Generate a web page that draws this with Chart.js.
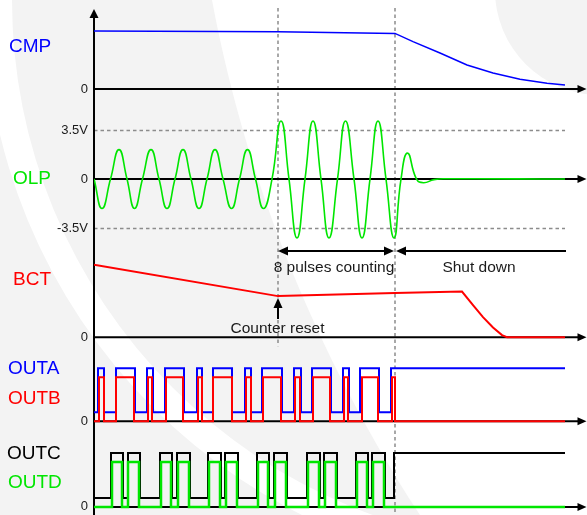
<!DOCTYPE html>
<html><head><meta charset="utf-8">
<script src="https://cdn.jsdelivr.net/npm/chart.js@4.4.1/dist/chart.umd.min.js"></script>
<style>html,body{margin:0;padding:0;background:#fff;}canvas{display:block;}</style>
</head><body>
<canvas id="c" width="587" height="515"></canvas>
<script>
// ---- time axis (arbitrary time units, 0 = origin) ----
const T_END = 471;
const COUNTER_RESET_T = 184;
const SHUTDOWN_T = 301;

// ---- CMP ----
const cmpT = [0, 184, 301, 319, 346, 373, 399, 426, 453, 471];
const cmpV = [2.9, 2.86, 2.78, 2.37, 1.8, 1.2, 0.8, 0.49, 0.29, 0.2];

// ---- OLP (volts) ----
const olpT = [0, 8, 16.5, 25, 33, 40.5, 48.5, 57, 65, 73, 81, 89, 97, 105, 113, 121, 129, 137.5, 145.5, 153.5, 161.5, 169.5,
              178, 187, 195, 203, 211, 219, 227, 235, 243.5, 251.5, 260, 268, 276, 284, 292, 300,
              307, 313.5, 322.5, 329.5, 340, 352, 471];
const olpV = [0, -2.1, 0, 2.1, 0, -2.1, 0, 2.1, 0, -2.1, 0, 2.1, 0, -2.1, 0, 2.1, 0, -2.1, 0, 2.1, 0, -2.1,
              0, 4.15, 0, -4.2, 0, 4.15, 0, -4.2, 0, 4.15, 0, -4.2, 0, 4.15, 0, -4.2,
              0, 1.85, 0, -0.26, -0.04, 0.02, 0];
const OLP_LIMITS = [3.5, -3.5];

// ---- BCT ----
const bctT = [0, 184, 301, 368, 379, 389, 399, 408, 413, 471];
const bctV = [3.62, 2.05, 2.2, 2.28, 1.6, 1.0, 0.48, 0.1, 0, 0];

// ---- digital outputs: toggle times (start low) ----
const outaEdges = [4, 10, 22, 41, 53, 59, 71, 90, 103, 108, 119, 138, 151, 157, 168, 188, 200, 207, 218, 237, 249, 255, 266, 285, 297];
const outbEdges = [5, 10, 22, 40, 54, 58, 72, 89, 104, 108, 119, 138, 152, 157, 169, 187, 201, 206, 219, 236, 250, 254, 268, 284, 298, 301];
const outcEdges = [17, 29, 34, 46, 66, 78, 83, 96, 114, 127, 131, 144, 163, 175, 180, 193, 213, 226, 230, 243, 262, 274, 278, 291, 300];
const outdEdges = [18, 28, 34, 45, 67, 77, 84, 95, 115, 126, 132, 143, 164, 174, 181, 192, 214, 225, 231, 242, 263, 273, 279, 290];
// [low, high] trace levels
const outaLevels = [0.2, 1.2];
const outbLevels = [0, 1];
const outcLevels = [0.2, 1.2];
const outdLevels = [0, 1];

const BLUE = '#0000ff', RED = '#ff0000', GREEN = '#00e600', BLACK = '#000000';
const FONT = '"Liberation Sans", Arial, Helvetica, sans-serif';

function xy(ts, vs) { return ts.map((t, i) => ({x: t, y: vs[i]})); }
function pulseTrain(edges, levels) {
  let s = 0;
  const pts = [{x: 0, y: levels[0]}];
  for (const e of edges) { s = 1 - s; pts.push({x: e, y: levels[s]}); }
  pts.push({x: T_END, y: levels[s]});
  return pts;
}

function arrowHead(ctx, tx, ty, dx, dy, len, half) {
  const bx = tx - dx * len, by = ty - dy * len, nx = -dy, ny = dx;
  ctx.beginPath();
  ctx.moveTo(tx, ty);
  ctx.lineTo(bx + nx * half, by + ny * half);
  ctx.lineTo(bx - nx * half, by - ny * half);
  ctx.closePath();
  ctx.fill();
}

const bgPlugin = {
  id: 'bg',
  beforeDraw(chart) {
    const {ctx, width, height} = chart;
    ctx.save();
    ctx.fillStyle = '#ffffff';
    ctx.fillRect(0, 0, width, height);
    ctx.fillStyle = '#f3f3f3';
    ctx.beginPath();
    ctx.moveTo(0, 0); ctx.lineTo(212, 0);
    ctx.bezierCurveTo(240, 150, 300, 330, 420, 515);
    ctx.lineTo(0, 515); ctx.closePath(); ctx.fill();
    ctx.beginPath(); ctx.arc(600, -10, 105, 0, Math.PI * 2); ctx.fill();
    ctx.fillStyle = '#ffffff';
    ctx.beginPath();
    ctx.arc(560, 0, 576, 0, Math.PI * 2);
    ctx.arc(560, 0, 548, 0, Math.PI * 2, true);
    ctx.fill('evenodd');
    ctx.restore();
  }
};

const panels = [
  {id: 'yCMP'}, {id: 'yOLP'}, {id: 'yBCT'}, {id: 'yAB'}, {id: 'yCD'}
];
const labels = [
  {text: 'CMP', color: BLUE, x: 9, axis: 'yCMP', v: 2.13},
  {text: 'OLP', color: GREEN, x: 13, axis: 'yOLP', v: 0},
  {text: 'BCT', color: RED, x: 13, axis: 'yBCT', v: 2.87},
  {text: 'OUTA', color: BLUE, x: 8, axis: 'yAB', v: 1.2},
  {text: 'OUTB', color: RED, x: 8, axis: 'yAB', v: 0.52},
  {text: 'OUTC', color: BLACK, x: 7, axis: 'yCD', v: 1.19},
  {text: 'OUTD', color: GREEN, x: 8, axis: 'yCD', v: 0.54}
];

const axesPlugin = {
  id: 'axes',
  beforeDatasetsDraw(chart) {
    const {ctx, chartArea: ca, scales} = chart;
    const X = scales.x;
    const px = t => X.getPixelForValue(t);
    ctx.save();
    // dashed limits on OLP
    ctx.strokeStyle = '#8c8c8c'; ctx.lineWidth = 1.5; ctx.setLineDash([3.5, 3]);
    for (const v of OLP_LIMITS) {
      const y = Math.round(scales.yOLP.getPixelForValue(v)) + 0.5;
      ctx.beginPath(); ctx.moveTo(ca.left, y); ctx.lineTo(px(T_END), y); ctx.stroke();
    }
    // vertical dashed markers
    const xr = px(COUNTER_RESET_T), xs = px(SHUTDOWN_T);
    ctx.beginPath(); ctx.moveTo(xr, ca.top - 2); ctx.lineTo(xr, scales.yBCT.bottom + 2); ctx.stroke();
    ctx.beginPath(); ctx.moveTo(xs, ca.top - 2); ctx.lineTo(xs, chart.height); ctx.stroke();
    ctx.setLineDash([]);
    // zero axes
    ctx.strokeStyle = '#000'; ctx.fillStyle = '#000'; ctx.lineWidth = 2;
    for (const p of panels) {
      const y = scales[p.id].getPixelForValue(0);
      ctx.beginPath(); ctx.moveTo(ca.left, y); ctx.lineTo(ca.right - 4, y); ctx.stroke();
      arrowHead(ctx, ca.right + 1.5, y, 1, 0, 9, 4);
    }
    // vertical axis
    ctx.beginPath(); ctx.moveTo(ca.left, chart.height); ctx.lineTo(ca.left, ca.top + 4); ctx.stroke();
    arrowHead(ctx, ca.left, ca.top - 1, 0, -1, 9, 4.5);
    // tick labels
    ctx.font = '13px ' + FONT; ctx.fillStyle = '#1a1a1a';
    ctx.textAlign = 'right'; ctx.textBaseline = 'middle';
    for (const p of panels) ctx.fillText('0', ca.left - 6, scales[p.id].getPixelForValue(0));
    ctx.fillText('3.5V', ca.left - 6, scales.yOLP.getPixelForValue(3.5));
    ctx.fillText('-3.5V', ca.left - 6, scales.yOLP.getPixelForValue(-3.5));
    // signal names
    ctx.font = '19px ' + FONT; ctx.textAlign = 'left';
    for (const l of labels) {
      ctx.fillStyle = l.color;
      ctx.fillText(l.text, l.x, scales[l.axis].getPixelForValue(l.v));
    }
    ctx.restore();
  },
  afterDatasetsDraw(chart) {
    const {ctx, scales} = chart;
    const X = scales.x, B = scales.yBCT;
    const px = t => X.getPixelForValue(t);
    const xr = px(COUNTER_RESET_T), xs = px(SHUTDOWN_T), xe = px(T_END + 1);
    ctx.save();
    ctx.strokeStyle = '#000'; ctx.fillStyle = '#000'; ctx.lineWidth = 2;
    const ya = B.getPixelForValue(4.3);
    // 8 pulses counting double arrow
    ctx.beginPath(); ctx.moveTo(xr + 8, ya); ctx.lineTo(xs - 9, ya); ctx.stroke();
    arrowHead(ctx, xr, ya, -1, 0, 10, 4.5);
    arrowHead(ctx, xs - 1, ya, 1, 0, 10, 4.5);
    // shut down arrow
    ctx.beginPath(); ctx.moveTo(xs + 9, ya); ctx.lineTo(xe, ya); ctx.stroke();
    arrowHead(ctx, xs + 1, ya, -1, 0, 10, 4.5);
    // counter reset arrow
    const yTip = B.getPixelForValue(1.95), yBase = B.getPixelForValue(0.9);
    ctx.beginPath(); ctx.moveTo(xr, yBase); ctx.lineTo(xr, yTip + 8); ctx.stroke();
    arrowHead(ctx, xr, yTip, 0, -1, 10, 4.5);
    // texts
    ctx.fillStyle = '#1a1a1a';
    ctx.font = '15.5px ' + FONT; ctx.textAlign = 'center'; ctx.textBaseline = 'alphabetic';
    ctx.fillText('8 pulses counting', px(240), B.getPixelForValue(3.25));
    ctx.fillText('Shut down', px(385), B.getPixelForValue(3.25));
    ctx.fillText('Counter reset', px(183.5), B.getPixelForValue(0.225));
    ctx.restore();
  }
};

const stepped = {stepped: true, pointRadius: 0, borderWidth: 2, fill: false, borderJoinStyle: 'miter'};

new Chart(document.getElementById('c'), {
  type: 'line',
  data: {
    datasets: [
      {label: 'CMP', data: xy(cmpT, cmpV), yAxisID: 'yCMP', borderColor: BLUE, borderWidth: 1.5, pointRadius: 0, tension: 0},
      {label: 'OLP', data: xy(olpT, olpV), yAxisID: 'yOLP', borderColor: GREEN, borderWidth: 1.6, pointRadius: 0, tension: 0.5},
      {label: 'BCT', data: xy(bctT, bctV), yAxisID: 'yBCT', borderColor: RED, borderWidth: 2, pointRadius: 0, tension: 0},
      Object.assign({label: 'OUTB', data: pulseTrain(outbEdges, outbLevels), yAxisID: 'yAB', borderColor: RED}, stepped),
      Object.assign({label: 'OUTA', data: pulseTrain(outaEdges, outaLevels), yAxisID: 'yAB', borderColor: BLUE}, stepped),
      Object.assign({label: 'OUTD', data: pulseTrain(outdEdges, outdLevels), yAxisID: 'yCD', borderColor: GREEN, borderWidth: 2.5}, stepped, {borderWidth: 2.5}),
      Object.assign({label: 'OUTC', data: pulseTrain(outcEdges, outcLevels), yAxisID: 'yCD', borderColor: BLACK}, stepped)
    ]
  },
  options: {
    responsive: false,
    animation: false,
    events: [],
    layout: {padding: {left: 94, right: 2, top: 10, bottom: 0}},
    plugins: {legend: {display: false}, tooltip: {enabled: false}},
    scales: {
      x: {type: 'linear', min: 0, max: 491, display: false},
      yCMP: {type: 'linear', position: 'left', stack: 'sig', stackWeight: 92, weight: 5, min: -0.65, max: 3.95, display: false},
      yOLP: {type: 'linear', position: 'left', stack: 'sig', stackWeight: 147, weight: 4, min: -5, max: 5.5, display: false},
      yBCT: {type: 'linear', position: 'left', stack: 'sig', stackWeight: 95, weight: 3, min: -0.35, max: 4.4, display: false},
      yAB: {type: 'linear', position: 'left', stack: 'sig', stackWeight: 85.8, weight: 2, min: -0.2, max: 1.75, display: false},
      yCD: {type: 'linear', position: 'left', stack: 'sig', stackWeight: 85, weight: 1, min: -0.18, max: 1.71, display: false}
    }
  },
  plugins: [bgPlugin, axesPlugin]
});
</script>
</body></html>
